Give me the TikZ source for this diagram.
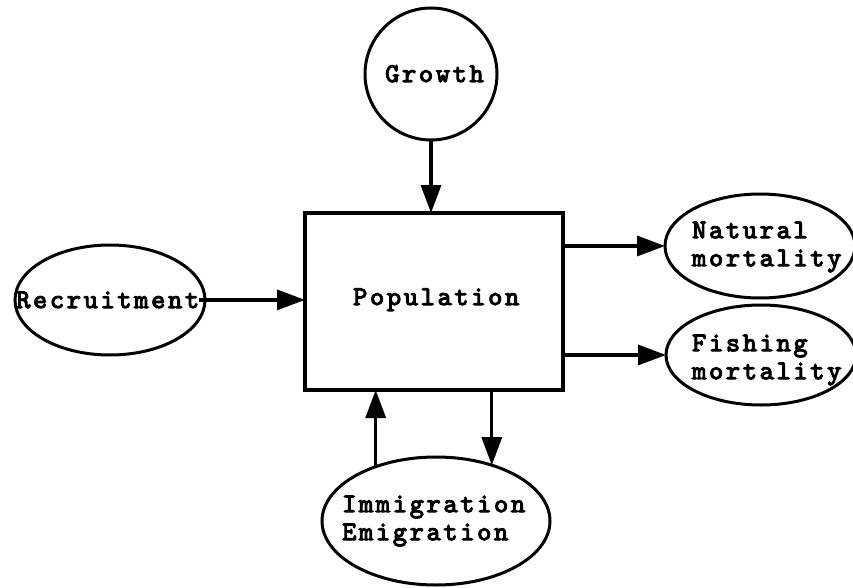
\documentclass[tikz,border=0pt]{standalone}
\usepackage{fontspec}
\newfontfamily\cour{lmmono10-regular}[Extension=.otf,FakeBold=4,LetterSpace=10]
\usetikzlibrary{arrows.meta,shapes.geometric}
\tikzset{
  arr/.style={line width=3.2pt,-{Triangle[length=28pt,width=20pt]}},
  ell/.style={ellipse,draw,line width=3pt,inner sep=0pt,outer sep=0pt},
  txt/.style={font=\cour\fontsize{27}{28}\selectfont,inner sep=0pt,align=left},
}
\begin{document}
\begin{tikzpicture}[x=1pt,y=-1pt]
\useasboundingbox (0,0) rectangle (853,588);
\node[draw,line width=3.2pt,minimum width=258pt,minimum height=177pt,inner sep=0pt,outer sep=0pt] (box) at (434,301.5) {};
\node[txt,anchor=base west] (popt) at (353,305) {Population};
\node[circle,draw,line width=3pt,minimum size=132pt,inner sep=0pt,outer sep=0pt] (gro) at (431,74) {};
\node[txt,anchor=base west] (grot) at (385,82) {Growth};
\node[ell,minimum width=190pt,minimum height=110pt] (rec) at (110,300) {};
\node[txt,anchor=base west] (rect) at (16,308) {Recruitment};
\node[ell,minimum width=190pt,minimum height=104pt] (nat) at (760,246) {};
\node[txt,anchor=west] (natt) at (692,247) {Natural\\mortality};
\node[ell,minimum width=190pt,minimum height=100pt] (fis) at (761,355) {};
\node[txt,anchor=west] (fist) at (692,360) {Fishing\\mortality};
\node[ell,minimum width=228pt,minimum height=128pt] (imm) at (436,521) {};
\node[txt,anchor=west] (immt) at (342,521) {Immigration\\Emigration};
\draw[arr] (gro.south) -- (box.north -| gro.south);
\draw[arr] (rect.east) -- (box.west |- rect.east);
\draw[arr] (box.east |- nat.west) -- (nat.west);
\draw[arr] (box.east |- fis.west) -- (fis.west);
\draw[arr] (imm.138) -- (box.south -| imm.138);
\draw[arr] (box.south -| imm.45) -- (imm.45);
\end{tikzpicture}
\end{document}
